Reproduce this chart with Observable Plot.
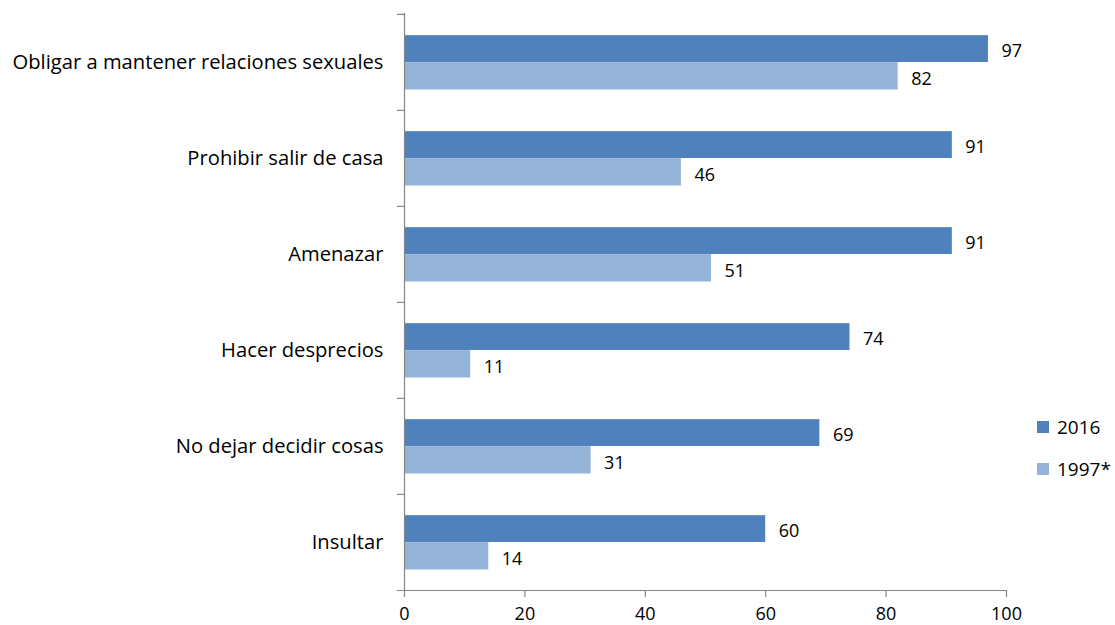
<!DOCTYPE html>
<html><head><meta charset="utf-8">
<script src="https://cdn.jsdelivr.net/npm/d3@7"></script>
<script src="https://cdn.jsdelivr.net/npm/@observablehq/plot@0.6"></script>
<style>
body{margin:0;background:#fff;font-family:"Open Sans",sans-serif;}
#wrap{position:relative;width:1115px;height:625px;overflow:hidden;}
#legend{position:absolute;left:1037px;top:406px;font-size:19px;color:#000;font-family:"Open Sans",sans-serif;}
.item{display:flex;align-items:center;height:42px;}
.sw{width:12px;height:12px;margin-right:8px;}
</style></head><body>
<div id="wrap"><div id="chart"></div><div id="legend"></div></div>
<script>
const categories = ["Obligar a mantener relaciones sexuales","Prohibir salir de casa","Amenazar","Hacer desprecios","No dejar decidir cosas","Insultar"];
const values2016 = [97,91,91,74,69,60];
const values1997 = [82,46,51,11,31,14];
const series = ["2016","1997*"];
const colors = ["#4F81BD","#95B3D7"];
const xTicks = [0,20,40,60,80,100];

const W = 1115, H = 625, mt = 13, mb = 35, ml = 404, mr = 109;
const band = (H - mt - mb) / categories.length;
const rowsA = categories.map((c, i) => ({category: c, value: values2016[i], series: series[0]}));
const rowsB = categories.map((c, i) => ({category: c, value: values1997[i], series: series[1]}));
const axisColor = "#868686";

const chart = Plot.plot({
  width: W, height: H,
  marginTop: mt, marginBottom: mb, marginLeft: ml, marginRight: mr,
  style: {fontFamily: "'Open Sans', sans-serif", fontSize: "18px", color: "#000", background: "#fff"},
  x: {domain: [0, 100], label: null},
  y: {domain: categories, padding: 0, label: null},
  marks: [
    Plot.barX(rowsA, {x: "value", y: "category", fill: colors[0], insetTop: band * 0.22, insetBottom: band - band * 0.22 - 27}),
    Plot.barX(rowsB, {x: "value", y: "category", fill: colors[1], insetTop: band * 0.22 + 27, insetBottom: band - band * 0.22 - 54.5}),
    Plot.text(rowsA, {x: "value", y: "category", text: d => String(d.value), dx: 13, dy: -11.5, textAnchor: "start", fill: "#000", fontSize: 18}),
    Plot.text(rowsB, {x: "value", y: "category", text: d => String(d.value), dx: 13, dy: 16.5, textAnchor: "start", fill: "#000", fontSize: 18}),
    Plot.ruleX([0], {stroke: axisColor, strokeWidth: 1.2}),
    Plot.frame({anchor: "bottom", stroke: axisColor, strokeWidth: 1.2, insetLeft: -7}),
    Plot.axisY({tickSize: 0, tickPadding: 21, fontSize: 20.2, fill: "#000", label: null}),
    Plot.axisY({text: null, tickSize: 7, dy: -band / 2, stroke: axisColor, strokeWidth: 1.2, label: null}),
    Plot.axisX({ticks: xTicks, tickSize: 7, tickPadding: 10, stroke: axisColor, strokeWidth: 1.2, fill: "#000", fontSize: 18, label: null})
  ]
});
document.getElementById("chart").appendChild(chart);

const legend = document.getElementById("legend");
series.forEach((s, i) => {
  const it = document.createElement("div");
  it.className = "item";
  const sw = document.createElement("div");
  sw.className = "sw";
  sw.style.background = colors[i];
  const t = document.createElement("span");
  t.textContent = s;
  it.appendChild(sw); it.appendChild(t);
  legend.appendChild(it);
});
</script>
</body></html>
